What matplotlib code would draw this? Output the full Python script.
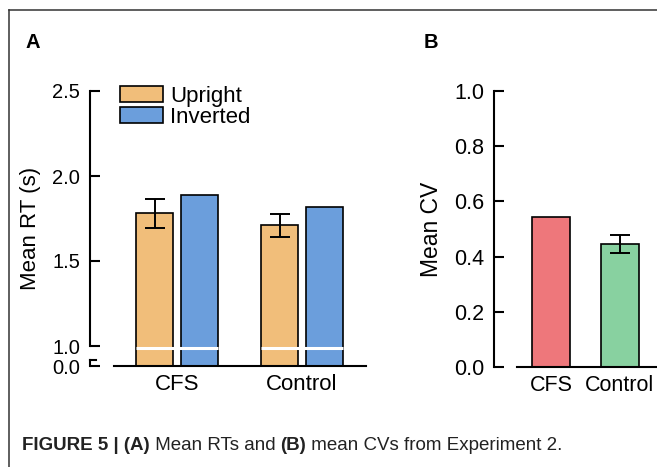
import numpy as np
import matplotlib
matplotlib.use("Agg")
import matplotlib.pyplot as plt
from matplotlib.lines import Line2D
from matplotlib.patches import Patch

plt.rcParams['font.family'] = ['Liberation Sans', 'DejaVu Sans']

# data
groups = ['CFS', 'Control']
rt_upright = [1.78, 1.71]
rt_upright_err = [0.083, 0.067]
rt_inverted = [1.89, 1.815]
cv_values = [0.545, 0.446]
cv_err = [0.0, 0.033]

c_up = '#F1BE7A'
c_inv = '#6B9EDC'
c_cfs = '#EE777B'
c_ctl = '#88D1A0'

W, H = 657, 467
fig = plt.figure(figsize=(W / 100, H / 100), dpi=100)


def px_axes(l, r, top, bot):
    return fig.add_axes([l / W, 1 - bot / H, (r - l) / W, (bot - top) / H])


# broken y axis: 0..1 squeezed into a short stub
GAP = 20 / 170


def fwd(y):
    y = np.asarray(y, float)
    return np.where(y >= 1, y, 1 - (1 - y) * GAP)


def inv(y):
    y = np.asarray(y, float)
    return np.where(y >= 1 - GAP, np.where(y >= 1, y, 1 - (1 - y) / GAP), 0)


# ---------- panel A ----------
ax = px_axes(90, 366, 91, 366)
ax.set_yscale('function', functions=(fwd, inv))
ax.set_ylim(0, 2.5)
x = np.arange(len(groups))
ax.set_xlim(-0.696, 1.512)
bw = 0.296
off = 0.178
ax.bar(x - off, rt_upright, bw, color=c_up, edgecolor='black', linewidth=1.2, zorder=2)
ax.bar(x + off, rt_inverted, bw, color=c_inv, edgecolor='black', linewidth=1.2, zorder=2)
ax.errorbar(x - off, rt_upright, yerr=rt_upright_err, fmt='none', ecolor='black',
            elinewidth=1.4, capsize=7, capthick=1.4, zorder=3)
for xi in x:
    ax.hlines(0.9, xi - off - bw / 2, xi + off + bw / 2, color='white', lw=2.2, zorder=4)

ax.set_yticks([0, 1, 1.5, 2, 2.5])
ax.set_yticklabels(['0.0', '1.0', '1.5', '2.0', '2.5'])
ax.minorticks_off()
ax.set_xticks(x)
ax.set_xticklabels(groups, fontsize=16)
ax.tick_params(axis='x', length=0, pad=6)
ax.tick_params(axis='y', direction='in', length=7, width=1.5, labelsize=14.5, pad=7)
for s in ['top', 'right', 'bottom']:
    ax.spines[s].set_visible(False)
ax.spines['left'].set_linewidth(1.5)
ax.spines['left'].set_bounds(1, 2.5)
yt = ax.get_yaxis_transform()
ax.plot([0, 0], [0, 0.3], color='black', lw=1.5, transform=yt, clip_on=False)
ax.plot([0, 0.02], [0.3, 0.3], color='black', lw=1.5, transform=yt, clip_on=False)
ax.axhline(0, xmin=(114 - 90) / 276, xmax=1, color='black', lw=1.5, clip_on=False, zorder=5)
ax.set_ylabel('Mean RT (s)', fontsize=16, labelpad=8)
ax.legend(handles=[Patch(facecolor=c_up, edgecolor='black', linewidth=1.2, label='Upright'),
                   Patch(facecolor=c_inv, edgecolor='black', linewidth=1.2, label='Inverted')],
          loc='upper left', bbox_to_anchor=(120 / W, 1 - 86 / H), bbox_transform=fig.transFigure,
          frameon=False, fontsize=16, borderpad=0, borderaxespad=0, handlelength=1.95,
          handleheight=0.7, handletextpad=0.3, labelspacing=0.0)

# ---------- panel B ----------
bx = px_axes(494, 700, 91, 367)
bx.set_ylim(0, 1)
xb = np.arange(len(groups))
bx.set_xlim(-0.839, 2.168)
bx.bar(xb, cv_values, 0.555, color=[c_cfs, c_ctl], edgecolor='black', linewidth=1.2, zorder=2)
bx.errorbar(xb[1:], cv_values[1:], yerr=cv_err[1:], fmt='none', ecolor='black',
            elinewidth=1.4, capsize=7, capthick=1.4, zorder=3)
bx.set_yticks(np.arange(0, 1.01, 0.2))
bx.set_yticklabels(['0.0', '0.2', '0.4', '0.6', '0.8', '1.0'])
bx.set_xticks(xb)
bx.set_xticklabels(groups, fontsize=15.5)
bx.tick_params(axis='x', length=0, pad=6)
bx.tick_params(axis='y', direction='in', length=7, width=1.5, labelsize=15.5, pad=7)
for s in ['top', 'right', 'bottom']:
    bx.spines[s].set_visible(False)
bx.spines['left'].set_linewidth(1.5)
bx.axhline(0, xmin=(517 - 494) / 206, xmax=1, color='black', lw=1.5, clip_on=False, zorder=5)
bx.set_ylabel('Mean CV', fontsize=16.5, labelpad=8)

# panel letters
fig.text(25 / W, 1 - 42 / H, 'A', fontsize=14.5, fontweight='bold', va='center')
fig.text(424 / W, 1 - 42 / H, 'B', fontsize=14.5, fontweight='bold', va='center')

# frame lines
fig.add_artist(Line2D([9 / W, 9 / W], [0, 1 - 10 / H], color='#333333', lw=1.1))
fig.add_artist(Line2D([9 / W, 1], [1 - 10 / H, 1 - 10 / H], color='#333333', lw=1.1))

# caption with mixed weights
cap_font = ['Liberation Sans', 'DejaVu Sans']
pieces = [('FIGURE 5 | (A)', 'bold'), (' Mean RTs and ', 'normal'), ('(B)', 'bold'),
          (' mean CVs from Experiment 2.', 'normal')]
fig.canvas.draw()
r = fig.canvas.get_renderer()
xpos = 22
for txt, wt in pieces:
    t = fig.text(xpos / W, 1 - 445 / H, txt, fontsize=13.5, fontweight=wt, family=cap_font,
                 va='center', color='#222222')
    xpos = t.get_window_extent(r).x1

fig.savefig('out.png', dpi=100)
